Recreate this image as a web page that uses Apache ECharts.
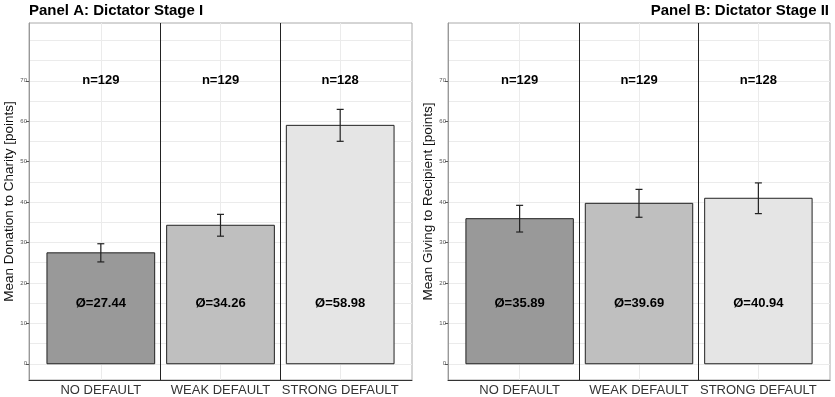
<!DOCTYPE html>
<html>
<head>
<meta charset="utf-8">
<script src="https://cdn.jsdelivr.net/npm/echarts@6/dist/echarts.min.js"></script>
<style>
  html, body { margin: 0; padding: 0; background: #fff; }
  #chart { width: 835px; height: 397px; }
</style>
</head>
<body>
<div id="chart"></div>
<script>
// data
const categories = ['NO DEFAULT', 'WEAK DEFAULT', 'STRONG DEFAULT']
const sizesA = [129, 129, 128]
const sizesB = [129, 129, 128]
const meansA = [27.44, 34.26, 58.98]
const meansB = [35.89, 39.69, 40.94]
const ciA = [2.25, 2.7, 3.95] // half width of error bar
const ciB = [3.3, 3.45, 3.8]
const yTicks = [0, 10, 20, 30, 40, 50, 60, 70]
const gridValues = [0, 5, 10, 15, 20, 25, 30, 35, 40, 45, 50, 55, 60, 65, 70, 75, 80]
const barColors = ['#999999', '#bfbfbf', '#e5e5e5']

const font = '"Liberation Sans", Arial, sans-serif'
const nLabelY = 70
const meanLabelY = 15

const chart = echarts.init(document.getElementById('chart'))

function panel(idx, means, ci, sizes, yName, nameGap) {
  const xMain = idx * 2
  const yMain = idx * 2
  const xAxis = [{
    gridIndex: idx,
    type: 'value',
    min: 0.4,
    max: 3.6,
    position: 'bottom',
    axisLine: { show: true, onZero: false, lineStyle: { color: '#333', width: 1 } },
    axisTick: { show: false, customValues: [1, 2, 3] },
    axisLabel: {
      customValues: [1, 2, 3],
      formatter: v => categories[Math.round(v) - 1],
      color: '#333',
      fontSize: 13,
      fontFamily: font,
      margin: 4
    },
    splitLine: { show: true, lineStyle: { color: '#ebebeb', width: 1 } }
  }, {
    // panel dividers between categories
    gridIndex: idx,
    type: 'value',
    min: 0.4,
    max: 3.6,
    position: 'bottom',
    axisLine: { show: false, onZero: false },
    axisTick: { show: false, customValues: [1.5, 2.5] },
    axisLabel: { show: false },
    splitLine: { show: true, lineStyle: { color: '#222', width: 1 } }
  }]
  const yAxis = [{
    gridIndex: idx,
    type: 'value',
    min: -4.02,
    max: 84.3,
    position: 'left',
    axisLine: { show: true, onZero: false, lineStyle: { color: '#999' } },
    axisTick: { show: false, customValues: gridValues },
    axisLabel: { show: false },
    splitLine: { show: true, lineStyle: { color: '#ebebeb', width: 1 } }
  }, {
    gridIndex: idx,
    type: 'value',
    min: -4.02,
    max: 84.3,
    position: 'left',
    name: yName,
    nameLocation: 'middle',
    nameGap: nameGap,
    nameTextStyle: { fontSize: 13.5, color: '#111', fontFamily: font },
    axisLine: { show: false, onZero: false },
    axisTick: { show: true, length: 3, customValues: yTicks, lineStyle: { color: '#555' } },
    axisLabel: { customValues: yTicks, fontSize: 6, color: '#555', margin: 2, fontFamily: font },
    splitLine: { show: false }
  }]

  const series = [{
    type: 'custom',
    xAxisIndex: xMain,
    yAxisIndex: yMain,
    data: means.map((m, i) => [i + 1, m]),
    renderItem: (params, api) => {
      const x = api.value(0)
      const tl = api.coord([x - 0.45, api.value(1)])
      const br = api.coord([x + 0.45, 0])
      return {
        type: 'rect',
        shape: { x: tl[0], y: tl[1], width: br[0] - tl[0], height: br[1] - tl[1] },
        style: { fill: barColors[params.dataIndex], stroke: '#222', lineWidth: 1 }
      }
    }
  }, {
    type: 'custom',
    xAxisIndex: xMain,
    yAxisIndex: yMain,
    data: means.map((m, i) => [i + 1, m - ci[i], m + ci[i]]),
    z: 3,
    renderItem: (params, api) => {
      const x = api.value(0)
      const lo = api.coord([x, api.value(1)])
      const hi = api.coord([x, api.value(2)])
      const w = 3.5
      const st = { stroke: '#222', lineWidth: 1.2 }
      return {
        type: 'group',
        children: [
          { type: 'line', shape: { x1: lo[0], y1: lo[1], x2: hi[0], y2: hi[1] }, style: st },
          { type: 'line', shape: { x1: lo[0] - w, y1: lo[1], x2: lo[0] + w, y2: lo[1] }, style: st },
          { type: 'line', shape: { x1: hi[0] - w, y1: hi[1], x2: hi[0] + w, y2: hi[1] }, style: st }
        ]
      }
    }
  }, {
    type: 'custom',
    xAxisIndex: xMain,
    yAxisIndex: yMain,
    data: means.map((m, i) => [i + 1, m, sizes[i]]),
    z: 4,
    renderItem: (params, api) => {
      const x = api.value(0)
      const pn = api.coord([x, nLabelY])
      const pm = api.coord([x, meanLabelY])
      const ts = { font: 'bold 13px ' + font, fill: '#000', align: 'center', verticalAlign: 'middle' }
      return {
        type: 'group',
        children: [
          { type: 'text', x: pn[0], y: pn[1], style: Object.assign({ text: 'n=' + api.value(2) }, ts) },
          { type: 'text', x: pm[0], y: pm[1], style: Object.assign({ text: 'Ø=' + api.value(1).toFixed(2) }, ts) }
        ]
      }
    }
  }]
  return { xAxis, yAxis, series }
}

const pA = panel(0, meansA, ciA, sizesA, 'Mean Donation to Charity [points]', 11)
const pB = panel(1, meansB, ciB, sizesB, 'Mean Giving to Recipient [points]', 12)

chart.setOption({
  animation: false,
  backgroundColor: '#fff',
  title: [{
    text: 'Panel A: Dictator Stage I',
    left: 29,
    top: 3,
    padding: 0,
    textStyle: { fontSize: 15, fontWeight: 'bold', color: '#000', fontFamily: font }
  }, {
    text: 'Panel B: Dictator Stage II',
    right: 6,
    top: 3,
    padding: 0,
    textStyle: { fontSize: 15, fontWeight: 'bold', color: '#000', fontFamily: font }
  }],
  grid: [
    { left: 29, top: 23, width: 383, height: 357, show: true, borderColor: '#aaa', borderWidth: 1,
      backgroundColor: '#fff', containLabel: false, outerBoundsMode: 'none' },
    { left: 448, top: 23, width: 382, height: 357, show: true, borderColor: '#aaa', borderWidth: 1,
      backgroundColor: '#fff', containLabel: false, outerBoundsMode: 'none' }
  ],
  xAxis: pA.xAxis.concat(pB.xAxis),
  yAxis: pA.yAxis.concat(pB.yAxis),
  series: pA.series.concat(pB.series)
})
</script>
</body>
</html>
